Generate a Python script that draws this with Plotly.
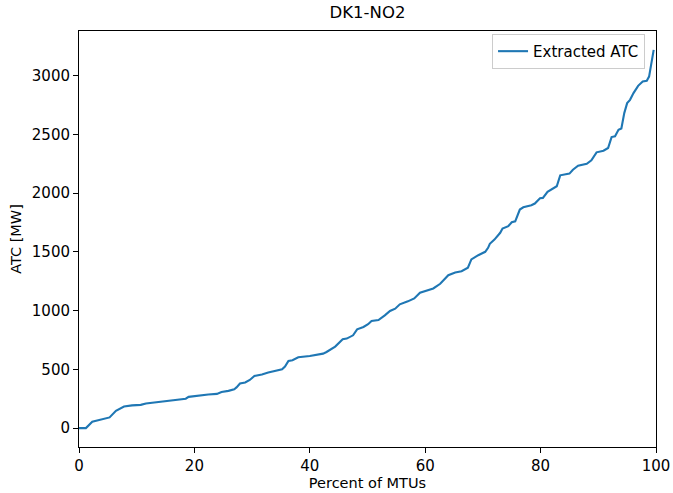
import plotly.graph_objects as go

pct = [0, 1.2, 2.3, 3.5, 4.3, 5.3, 6.4, 6.9, 7.8, 9.2, 10.7, 11.6, 13.9, 15.6, 17.3, 18.5,
       19.0, 20.7, 22.4, 23.9, 24.7, 25.9, 26.9, 27.3, 27.9, 28.8, 29.6, 30.4, 31.7, 32.8,
       34.0, 35.2, 35.7, 36.3, 37.0, 38.0, 40.0, 42.3, 42.9, 44.4, 45.7, 46.4, 47.5, 48.2,
       49.3, 50.1, 50.7, 51.9, 53.0, 53.9, 54.8, 55.6, 57.0, 58.1, 59.1, 60.3, 61.4, 62.6,
       64.0, 65.2, 66.3, 67.4, 68.0, 69.2, 70.4, 70.9, 71.2, 72.0, 73.0, 73.4, 74.4, 75.0,
       75.6, 76.4, 77.0, 78.4, 79.0, 79.9, 80.4, 81.2, 82.8, 83.4, 85.0, 85.6, 86.5, 88.0,
       88.8, 89.7, 90.9, 91.7, 92.3, 92.9, 93.5, 94.0, 94.5, 95.0, 95.5, 96.1, 96.9, 97.7,
       98.4, 98.8, 99.1, 99.6]
atc = [0, 0, 54, 68, 82, 91, 147, 161, 184, 193, 198, 210, 223, 238, 246, 250,
       266, 278, 286, 291, 308, 317, 331, 346, 380, 388, 410, 444, 456, 473,
       484, 501, 524, 572, 578, 603, 614, 634, 648, 694, 756, 762, 790, 841,
       861, 884, 912, 920, 960, 997, 1017, 1054, 1079, 1104, 1153, 1173, 1189, 1229,
       1302, 1325, 1336, 1365, 1436, 1472, 1501, 1535, 1569, 1605, 1663, 1699, 1719, 1753,
       1761, 1861, 1880, 1897, 1912, 1957, 1960, 2011, 2059, 2152, 2167, 2200, 2234, 2251,
       2280, 2348, 2362, 2385, 2478, 2484, 2540, 2551, 2682, 2767, 2795, 2852, 2914, 2951,
       2957, 2993, 3078, 3220]

x_ticks = [0, 20, 40, 60, 80, 100]
y_ticks = [0, 500, 1000, 1500, 2000, 2500, 3000]

FONT = "DejaVu Sans"

fig = go.Figure()
fig.add_trace(go.Scatter(x=pct, y=atc, mode="lines", name="Extracted ATC",
                         line=dict(color="#1f77b4", width=2.1)))

axis_common = dict(showline=True, mirror=True, linecolor="black", linewidth=1,
                   ticks="outside", ticklen=5, tickwidth=1, tickcolor="black",
                   showgrid=False, zeroline=False, automargin=False,
                   tickfont=dict(family=FONT, size=15, color="black"))

fig.update_layout(
    width=673, height=493,
    margin=dict(l=79, r=17, t=31, b=46, autoexpand=False),
    paper_bgcolor="white", plot_bgcolor="white",
    title=dict(text="DK1-NO2", x=(79 + 656) / 2 / 673, xanchor="center",
               y=1 - 12 / 493, yanchor="middle",
               font=dict(family=FONT, size=16.5, color="black")),
    xaxis=dict(range=[0, 100], tickvals=x_ticks,
               title=dict(text="Percent of MTUs", standoff=3,
                          font=dict(family=FONT, size=14.5, color="black")),
               **axis_common),
    yaxis=dict(range=[-161, 3381], tickvals=y_ticks,
               title=dict(text="ATC [MW]", standoff=6,
                          font=dict(family=FONT, size=14.5, color="black")),
               **axis_common),
    legend=dict(x=0.981, y=0.993, xanchor="right", yanchor="top",
                bgcolor="rgba(255,255,255,0.8)", bordercolor="#cccccc", borderwidth=1,
                font=dict(family=FONT, size=15, color="black")),
    showlegend=True,
)

fig.write_html("out.html", config={"displayModeBar": False},
               post_script="document.body.style.margin='0';document.body.style.padding='0';")
